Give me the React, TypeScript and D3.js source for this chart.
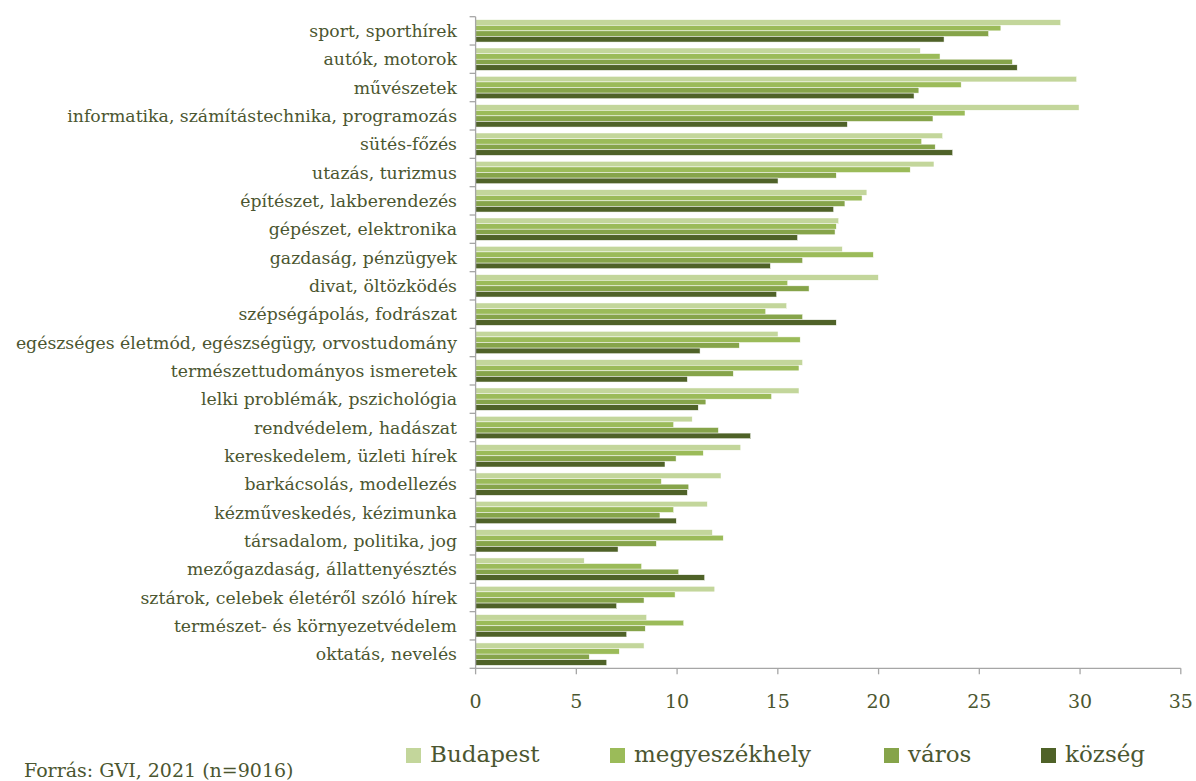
import React from "react";
import * as d3 from "d3";

const categories = [
  "sport, sporthírek",
  "autók, motorok",
  "művészetek",
  "informatika, számítástechnika, programozás",
  "sütés-főzés",
  "utazás, turizmus",
  "építészet, lakberendezés",
  "gépészet, elektronika",
  "gazdaság, pénzügyek",
  "divat, öltözködés",
  "szépségápolás, fodrászat",
  "egészséges életmód, egészségügy, orvostudomány",
  "természettudományos ismeretek",
  "lelki problémák, pszichológia",
  "rendvédelem, hadászat",
  "kereskedelem, üzleti hírek",
  "barkácsolás, modellezés",
  "kézműveskedés, kézimunka",
  "társadalom, politika, jog",
  "mezőgazdaság, állattenyésztés",
  "sztárok, celebek életéről szóló hírek",
  "természet- és környezetvédelem",
  "oktatás, nevelés",
];

const seriesNames = ["Budapest", "megyeszékhely", "város", "község"];

const budapest = [29.04, 22.07, 29.83, 29.95, 23.18, 22.75, 19.42, 18.02, 18.2, 19.99, 15.44, 15.01, 16.23, 16.05, 10.75, 13.16, 12.18, 11.5, 11.75, 5.39, 11.87, 8.49, 8.36];
const megyeszekhely = [26.07, 23.05, 24.1, 24.29, 22.14, 21.57, 19.18, 17.9, 19.74, 15.49, 14.4, 16.11, 16.05, 14.69, 9.83, 11.3, 9.22, 9.83, 12.29, 8.24, 9.9, 10.33, 7.13];
const varos = [25.46, 26.64, 22.0, 22.7, 22.81, 17.9, 18.33, 17.84, 16.23, 16.55, 16.23, 13.09, 12.79, 11.43, 12.05, 9.95, 10.58, 9.15, 8.97, 10.08, 8.36, 8.42, 5.64];
const kozseg = [23.25, 26.88, 21.76, 18.45, 23.68, 15.01, 17.77, 15.98, 14.63, 14.94, 17.9, 11.14, 10.51, 11.05, 13.65, 9.4, 10.51, 9.96, 7.07, 11.37, 7.0, 7.5, 6.51];

const xTicks = [0, 5, 10, 15, 20, 25, 30, 35];
const colors = ["#c3d69b", "#9bbb59", "#86a44a", "#4f6228"];
const sourceText = "Forrás: GVI, 2021 (n=9016)";

const seriesValues = [budapest, megyeszekhely, varos, kozseg];

const W = 1196;
const H = 781;
const left = 475.6;
const right = 1180.8;
const top = 16.7;
const bottom = 668.3;
const textColor = "#4b5630";
const axisColor = "#a6a6a6";
const font = "'DejaVu Serif', serif";

export default function App() {
  const x = d3.scaleLinear().domain([0, 35]).range([left, right]);
  const y = d3.scaleBand<string>().domain(categories).range([top, bottom]).paddingInner(0.21).paddingOuter(0.105);
  const ys = d3.scaleBand<string>().domain(seriesNames).range([0, y.bandwidth()]).padding(0);
  const step = (bottom - top) / categories.length;

  const legendX = [406, 610, 884, 1041];

  return (
    <svg width={W} height={H} style={{ position: "absolute", left: 0, top: 0, background: "#fff" }} fontFamily={font}>
      {categories.map((c, i) => (
        <g key={c}>
          {seriesValues.map((vals, s) => (
            <rect
              key={s}
              x={x(0)}
              y={(y(c) as number) + (ys(seriesNames[s]) as number)}
              width={x(vals[i]) - x(0)}
              height={ys.bandwidth()}
              fill={colors[s]}
              stroke="#ffffff"
              strokeWidth={0.5}
            />
          ))}
          <text
            x={457}
            y={(y(c) as number) + y.bandwidth() / 2}
            dy="0.36em"
            textAnchor="end"
            fontSize={17.3}
            fill={textColor}
          >
            {c}
          </text>
        </g>
      ))}
      {/* y axis */}
      <line x1={left} x2={left} y1={top} y2={bottom} stroke={axisColor} strokeWidth={1.3} />
      {d3.range(categories.length + 1).map((i) => (
        <line key={i} x1={left - 6} x2={left} y1={top + i * step} y2={top + i * step} stroke={axisColor} strokeWidth={1.3} />
      ))}
      {/* x axis */}
      <line x1={left} x2={right} y1={bottom} y2={bottom} stroke={axisColor} strokeWidth={1.3} />
      {xTicks.map((t) => (
        <g key={t}>
          <line x1={x(t)} x2={x(t)} y1={bottom} y2={bottom + 6} stroke={axisColor} strokeWidth={1.3} />
          <text x={x(t)} y={701.5} dy="0.36em" textAnchor="middle" fontSize={19} fill={textColor}>
            {t}
          </text>
        </g>
      ))}
      {/* legend */}
      {seriesNames.map((n, s) => (
        <g key={n}>
          <rect x={legendX[s]} y={748} width={15} height={15} fill={colors[s]} />
          <text x={legendX[s] + 24} y={762} fontSize={23} fill={textColor}>
            {n}
          </text>
        </g>
      ))}
      <text x={24} y={777} fontSize={19} fill={textColor}>
        {sourceText}
      </text>
    </svg>
  );
}
